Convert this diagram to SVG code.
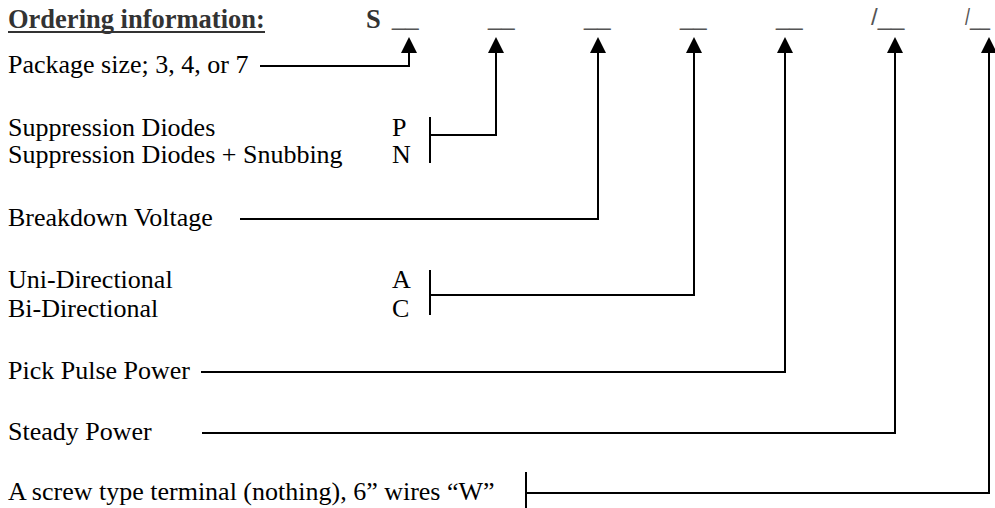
<svg xmlns="http://www.w3.org/2000/svg" width="995" height="508" viewBox="0 0 995 508">
  <style>
    .lbl { font-family: "Liberation Serif", "Times New Roman", serif; font-size: 26px; fill: #000; }
    .hdr { font-family: "Liberation Serif", "Times New Roman", serif; font-size: 26.5px; font-weight: bold; fill: #333; }
    .slot { font-family: "Liberation Sans", Arial, sans-serif; font-size: 24px; fill: #555; }
    .wire { fill: none; stroke: #000; stroke-width: 2; }
  </style>
  <defs>
    <marker id="arrow" markerWidth="16" markerHeight="16" viewBox="0 0 16 16" refX="8" refY="8" markerUnits="userSpaceOnUse" orient="auto">
      <path d="M0,0 L16,8 L0,16 Z" fill="#000"/>
    </marker>
  </defs>
  <rect width="995" height="508" fill="#fff"/>

  <!-- header: part-number template -->
  <g id="header">
    <text class="hdr" x="8" y="28">Ordering information:</text>
    <line x1="8" y1="32" x2="265" y2="32" stroke="#333" stroke-width="2"/>
    <text class="hdr" x="366" y="28">S</text>
    <text class="slot" x="392" y="25">__</text>
    <text class="slot" x="488" y="25">__</text>
    <text class="slot" x="584" y="25">__</text>
    <text class="slot" x="680" y="25">__</text>
    <text class="slot" x="776" y="25">__</text>
    <text class="slot" x="871" y="25">/__</text>
    <text class="slot" x="965" y="25" textLength="25" lengthAdjust="spacingAndGlyphs">/__</text>
  </g>

  <g id="package-size">
    <text class="lbl" x="8" y="73">Package size; 3, 4, or 7</text>
  </g>
  <g id="suppression">
    <text class="lbl" x="8" y="136">Suppression Diodes</text>
    <text class="lbl" x="392" y="136">P</text>
    <text class="lbl" x="8" y="163">Suppression Diodes + Snubbing</text>
    <text class="lbl" x="392" y="163">N</text>
  </g>
  <g id="breakdown-voltage">
    <text class="lbl" x="8" y="226">Breakdown Voltage</text>
  </g>
  <g id="direction">
    <text class="lbl" x="8" y="288">Uni-Directional</text>
    <text class="lbl" x="392" y="288">A</text>
    <text class="lbl" x="8" y="317">Bi-Directional</text>
    <text class="lbl" x="392" y="317">C</text>
  </g>
  <g id="pick-pulse-power">
    <text class="lbl" x="8" y="379">Pick Pulse Power</text>
  </g>
  <g id="steady-power">
    <text class="lbl" x="8" y="440">Steady Power</text>
  </g>
  <g id="terminal">
    <text class="lbl" x="8" y="500">A screw type terminal (nothing), 6” wires “W”</text>
  </g>

  <!-- leader lines up to each slot -->
  <g id="connectors" class="wire">
    <polyline points="260,66 409,66 409,45" marker-end="url(#arrow)"/>
    <line x1="430" y1="117" x2="430" y2="163"/>
    <polyline points="430,135 496,135 496,45" marker-end="url(#arrow)"/>
    <polyline points="240,219 598,219 598,45" marker-end="url(#arrow)"/>
    <line x1="430" y1="270" x2="430" y2="315"/>
    <polyline points="430,295 694,295 694,45" marker-end="url(#arrow)"/>
    <polyline points="201,372 785,372 785,45" marker-end="url(#arrow)"/>
    <polyline points="202,433 895,433 895,45" marker-end="url(#arrow)"/>
    <line x1="526" y1="472" x2="526" y2="508"/>
    <polyline points="526,493 989,493 989,45" marker-end="url(#arrow)"/>
  </g>
</svg>
